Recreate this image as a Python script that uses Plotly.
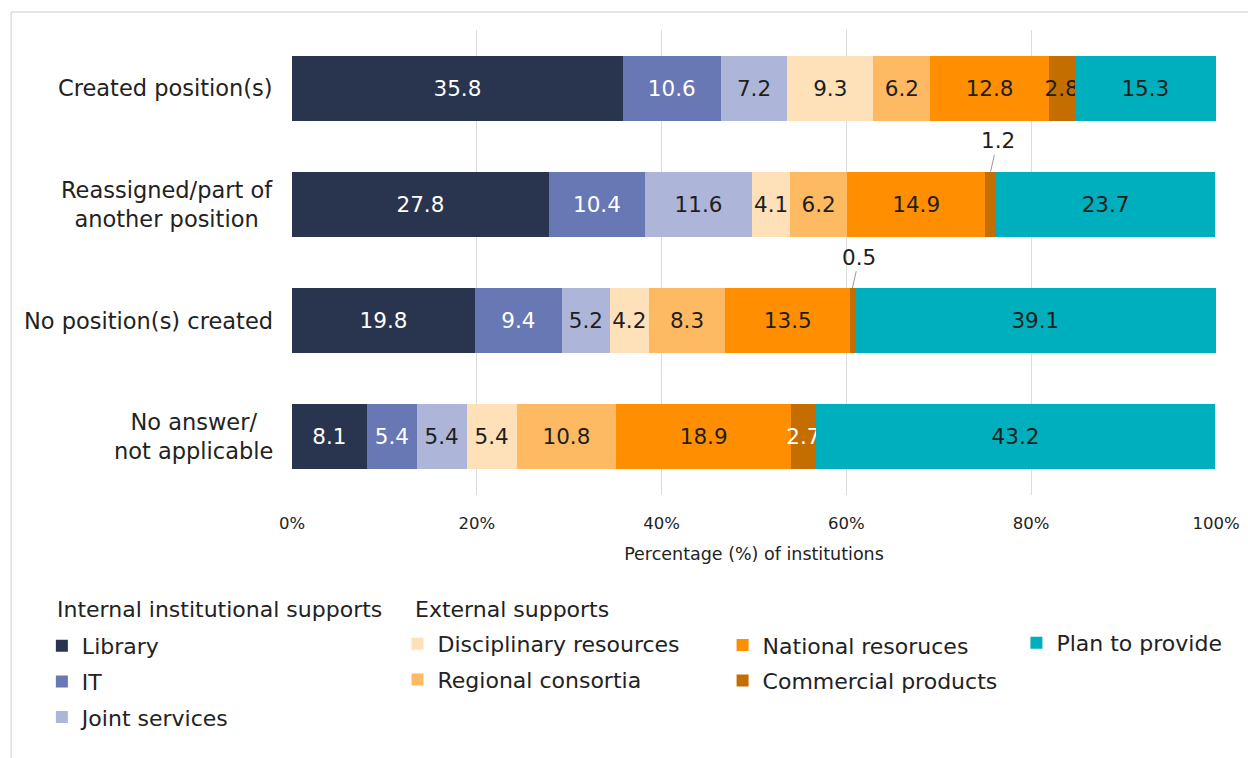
import plotly.graph_objects as go

# Rows (top to bottom) and stacked series
categories = [
    "Created position(s)",
    "Reassigned/part of<br>another position",
    "No position(s) created",
    "No answer/<br>not applicable",
]
series_names = [
    "Library", "IT", "Joint services",
    "Disciplinary resources", "Regional consortia",
    "National resoruces", "Commercial products",
    "Plan to provide",
]
library = [35.8, 27.8, 19.8, 8.1]
it = [10.6, 10.4, 9.4, 5.4]
joint_services = [7.2, 11.6, 5.2, 5.4]
disciplinary = [9.3, 4.1, 4.2, 5.4]
regional = [6.2, 6.2, 8.3, 10.8]
national = [12.8, 14.9, 13.5, 18.9]
commercial = [2.8, 1.2, 0.5, 2.7]
plan_to_provide = [15.3, 23.7, 39.1, 43.2]

x_ticks = [0, 20, 40, 60, 80, 100]
x_tick_text = [f"{t}%" for t in x_ticks]
group_titles = ["Internal institutional supports", "External supports"]

values = [library, it, joint_services, disciplinary, regional,
          national, commercial, plan_to_provide]
colors = ["#29344f", "#6878b4", "#adb6d8", "#fee0b9",
          "#feba63", "#ff8f00", "#c46e00", "#00afbd"]
DARK = "#1e1e1e"
WHITE = "#ffffff"
text_colors = [
    [WHITE] * 4, [WHITE] * 4, [DARK] * 4, [DARK] * 4,
    [DARK] * 4, [DARK] * 4, [DARK, WHITE, WHITE, WHITE], [DARK] * 4,
]
legend_of = ["legend", "legend", "legend", "legend2", "legend2",
             "legend3", "legend3", "legend4"]

FONT = "DejaVu Sans"
SMALL = 2.0  # segments narrower than this get an outside label with a leader

fig = go.Figure()
for name, vals, col, tcol, lg in zip(series_names, values, colors,
                                      text_colors, legend_of):
    labels = [f"{v:.1f}" if v >= SMALL else "" for v in vals]
    fig.add_trace(go.Bar(
        y=categories, x=vals, name=name, orientation="h",
        marker=dict(color=col, line=dict(width=0)),
        text=labels, textposition="inside", insidetextanchor="middle",
        textangle=0, constraintext="none",
        textfont=dict(family=FONT, size=21.5, color=tcol),
        legend=lg, legendgroup=name, width=0.56,
        hoverinfo="x+name",
    ))

# Leader-line labels for very thin segments
cum = [0.0] * len(categories)
for vals in values:
    for i, v in enumerate(vals):
        if v < SMALL:
            fig.add_annotation(
                x=cum[i] + v / 2, y=i - 0.28, xref="x", yref="y",
                text=f"{v:.1f}", showarrow=True, arrowhead=0,
                arrowwidth=1, arrowcolor="#9a9a9a", ax=7, ay=-31,
                standoff=0, font=dict(family=FONT, size=21.5, color=DARK),
            )
        cum[i] += v

# Row labels, centred line by line
for i, cat in enumerate(categories):
    fig.add_annotation(
        x=-0.018, y=i, xref="paper", yref="y", text=cat,
        showarrow=False, xanchor="right", align="center",
        font=dict(family=FONT, size=22.5, color="#222222"),
    )

legend_font = dict(family=FONT, size=22, color="#222222")

# Legend group headings
for title, xp in zip(group_titles, [-0.2566, 0.1309]):
    fig.add_annotation(
        x=xp, y=-0.2473, xref="paper", yref="paper", text=title,
        showarrow=False, xanchor="left", yanchor="middle",
        font=legend_font,
    )

common = dict(orientation="v", xanchor="left", yanchor="top",
              traceorder="grouped", tracegroupgap=4, font=legend_font,
              bgcolor="rgba(0,0,0,0)", borderwidth=0)

fig.update_layout(
    width=1248, height=758,
    margin=dict(l=292, r=32, t=30, b=263, autoexpand=False),
    paper_bgcolor="white", plot_bgcolor="white",
    barmode="stack", bargap=0.44,
    font=dict(family=FONT, color="#222222"),
    xaxis=dict(
        range=[0, 100], tickvals=x_ticks, ticktext=x_tick_text,
        showgrid=True, gridcolor="#dcdcdc", gridwidth=1,
        zeroline=False, showline=False, ticks="",
        ticklabelstandoff=16,
        tickfont=dict(family=FONT, size=16.5, color="#222222"),
        title=dict(text="Percentage (%) of institutions", standoff=16,
                   font=dict(family=FONT, size=17.5, color="#222222")),
    ),
    yaxis=dict(
        categoryorder="array", categoryarray=categories,
        autorange="reversed", showticklabels=False,
        showgrid=False, zeroline=False, showline=False,
    ),
    legend=dict(x=-0.2707, y=-0.2796, **common),
    legend2=dict(x=0.1142, y=-0.2753, **common),
    legend3=dict(x=0.466, y=-0.2778, **common),
    legend4=dict(x=0.784, y=-0.2731, **common),
    showlegend=True,
)

# Light frame along the top and left edges
fig.add_shape(type="line", xref="paper", yref="paper",
              x0=-0.304, x1=1.04, y0=1.0387, y1=1.0387,
              line=dict(color="#dddddd", width=1.5))
fig.add_shape(type="line", xref="paper", yref="paper",
              x0=-0.304, x1=-0.304, y0=1.0387, y1=-0.6,
              line=dict(color="#dddddd", width=1.5))

fig.write_html("out.html")
